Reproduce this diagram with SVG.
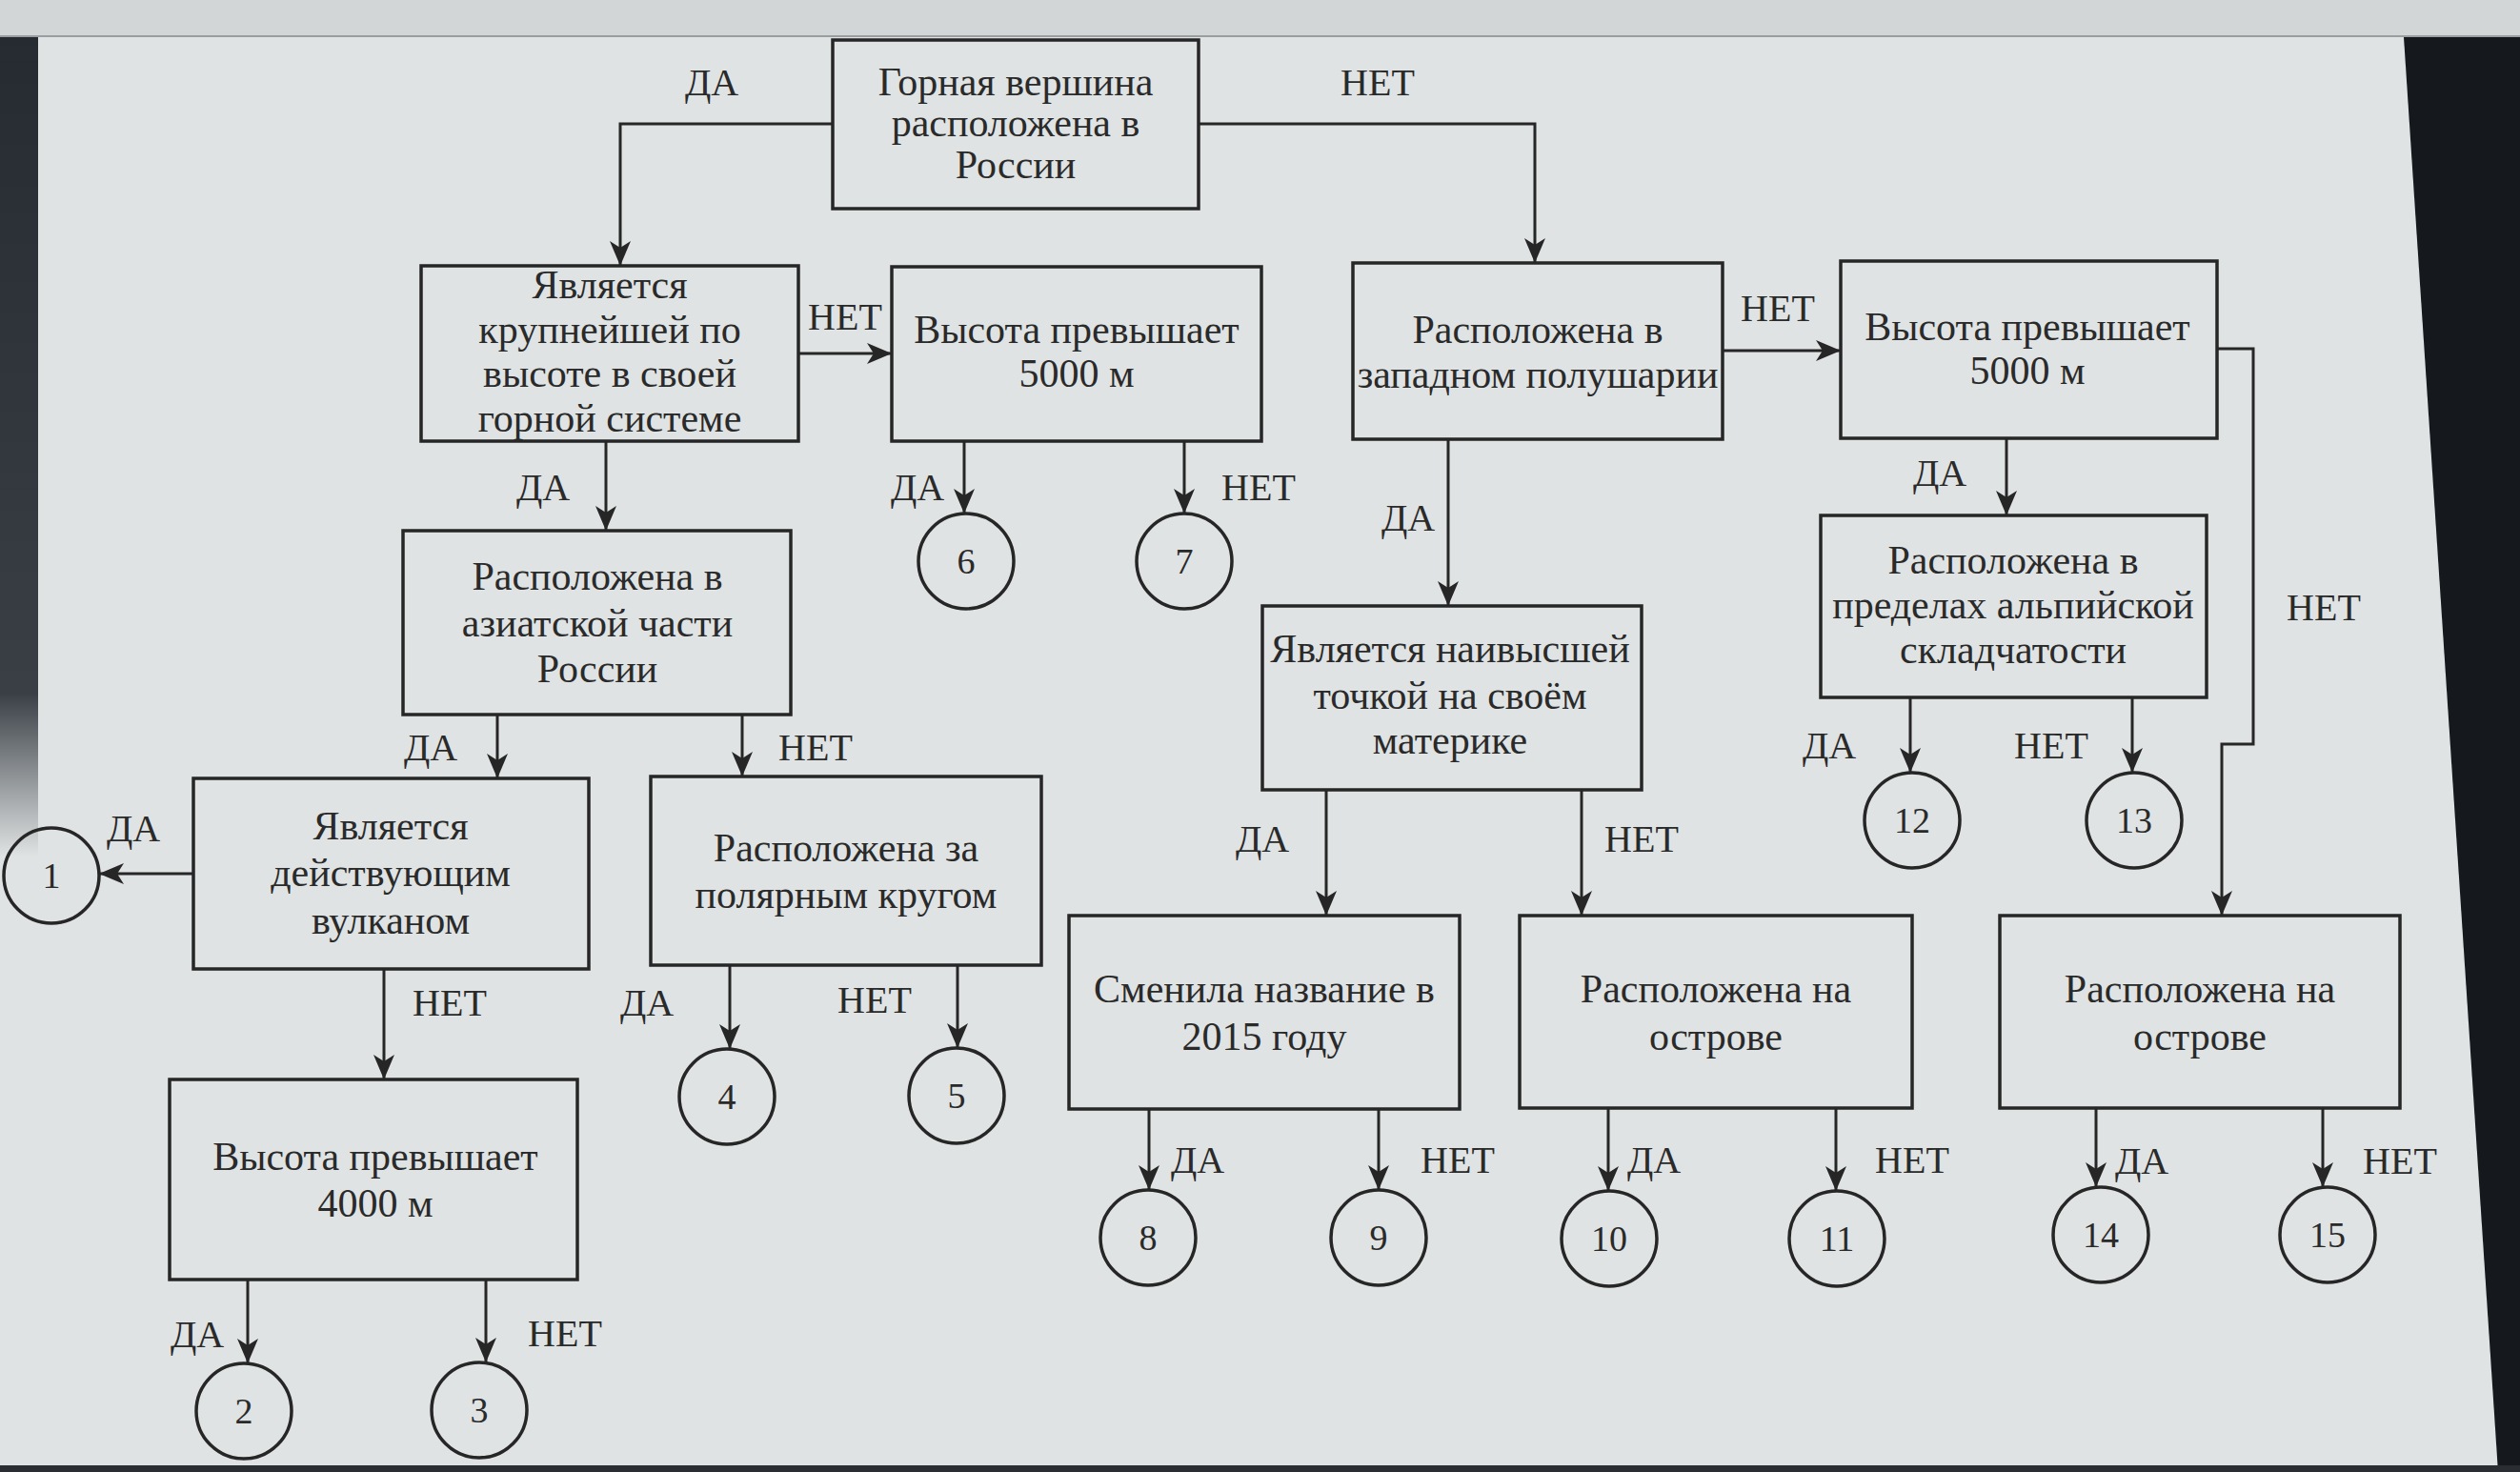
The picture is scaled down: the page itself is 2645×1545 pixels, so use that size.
<svg xmlns="http://www.w3.org/2000/svg" width="2645" height="1545" viewBox="0 0 2645 1545">
<defs>
<style>
.box{fill:none;stroke:#262626;stroke-width:3.5}
.circ{fill:none;stroke:#262626;stroke-width:3.5}
.ln{fill:none;stroke:#262626;stroke-width:3;marker-end:url(#ah)}
.t{font-family:"Liberation Serif","Times New Roman",serif;font-size:42px;fill:#2a2a2a;text-anchor:middle}
.lb{font-family:"Liberation Serif","Times New Roman",serif;font-size:40px;fill:#2a2a2a;text-anchor:middle}
.num{font-family:"Liberation Serif","Times New Roman",serif;font-size:38px;fill:#2a2a2a;text-anchor:middle}
</style>
<marker id="ah" markerWidth="26" markerHeight="22" refX="26" refY="11" orient="auto" markerUnits="userSpaceOnUse">
<path d="M0,0 L26,11 L0,22 L7,11 z" fill="#262626"/>
</marker>
<linearGradient id="lf" x1="0" y1="0" x2="0" y2="1">
<stop offset="0" stop-color="#262a31"/>
<stop offset="0.8" stop-color="#3a3f46"/>
<stop offset="1" stop-color="#dfe3e3"/>
</linearGradient>
</defs>
<rect x="0" y="0" width="2645" height="1545" fill="#dfe3e3"/>
<rect x="0" y="0" width="2645" height="38" fill="#d3d6d7"/>
<line x1="0" y1="38" x2="2645" y2="38" stroke="#9a9ea0" stroke-width="2"/>
<rect x="0" y="39" width="40" height="860" fill="url(#lf)"/>
<polygon points="2523,39 2645,39 2645,1545 2622,1545" fill="#15181c"/>
<rect x="0" y="1538" width="2645" height="7" fill="#2a2d31"/>

<g id="connectors">
<path class="ln" d="M874,130 H651 V279"/>
<path class="ln" d="M1258,130 H1611 V276"/>
<path class="ln" d="M838,371 H936"/>
<path class="ln" d="M1012,463 V539"/>
<path class="ln" d="M1243,463 V539"/>
<path class="ln" d="M1808,368 H1932"/>
<path class="ln" d="M2106,460 V541"/>
<path class="ln" d="M2327,366 H2365 V781 H2332 V961"/>
<path class="ln" d="M2005,732 V811"/>
<path class="ln" d="M2238,732 V811"/>
<path class="ln" d="M1520,461 V636"/>
<path class="ln" d="M1392,829 V961"/>
<path class="ln" d="M1660,829 V961"/>
<path class="ln" d="M1206,1164 V1249"/>
<path class="ln" d="M1447,1164 V1249"/>
<path class="ln" d="M1688,1163 V1250"/>
<path class="ln" d="M1927,1163 V1250"/>
<path class="ln" d="M2200,1163 V1246"/>
<path class="ln" d="M2438,1163 V1246"/>
<path class="ln" d="M636,463 V557"/>
<path class="ln" d="M522,750 V817"/>
<path class="ln" d="M779,750 V815"/>
<path class="ln" d="M203,917 H104"/>
<path class="ln" d="M403,1017 V1133"/>
<path class="ln" d="M260,1343 V1431"/>
<path class="ln" d="M510,1343 V1430"/>
<path class="ln" d="M766,1013 V1101"/>
<path class="ln" d="M1005,1013 V1100"/>
<g id="edge-labels">
<text class="lb" x="747" y="100">ДА</text>
<text class="lb" x="1446" y="100">НЕТ</text>
<text class="lb" x="887" y="346">НЕТ</text>
<text class="lb" x="963" y="525">ДА</text>
<text class="lb" x="1321" y="525">НЕТ</text>
<text class="lb" x="1866" y="337">НЕТ</text>
<text class="lb" x="2036" y="510">ДА</text>
<text class="lb" x="2439" y="651">НЕТ</text>
<text class="lb" x="1920" y="796">ДА</text>
<text class="lb" x="2153" y="796">НЕТ</text>
<text class="lb" x="1478" y="557">ДА</text>
<text class="lb" x="1325" y="894">ДА</text>
<text class="lb" x="1723" y="894">НЕТ</text>
<text class="lb" x="1257" y="1231">ДА</text>
<text class="lb" x="1530" y="1231">НЕТ</text>
<text class="lb" x="1736" y="1231">ДА</text>
<text class="lb" x="2007" y="1231">НЕТ</text>
<text class="lb" x="2248" y="1232">ДА</text>
<text class="lb" x="2519" y="1232">НЕТ</text>
<text class="lb" x="570" y="525">ДА</text>
<text class="lb" x="452" y="798">ДА</text>
<text class="lb" x="856" y="798">НЕТ</text>
<text class="lb" x="140" y="883">ДА</text>
<text class="lb" x="472" y="1066">НЕТ</text>
<text class="lb" x="207" y="1414">ДА</text>
<text class="lb" x="593" y="1413">НЕТ</text>
<text class="lb" x="679" y="1066">ДА</text>
<text class="lb" x="918" y="1063">НЕТ</text>
</g>
</g>

<g id="n0"><rect class="box" x="874" y="42" width="384" height="177"/>
<text class="t" x="1066" y="100">Горная вершина</text><text class="t" x="1066" y="143">расположена в</text><text class="t" x="1066" y="187">России</text></g>
<g id="n1"><rect class="box" x="442" y="279" width="396" height="184"/>
<text class="t" x="640" y="313">Является</text><text class="t" x="640" y="360">крупнейшей по</text><text class="t" x="640" y="406">высоте в своей</text><text class="t" x="640" y="453">горной системе</text></g>
<g id="n2"><rect class="box" x="936" y="280" width="388" height="183"/>
<text class="t" x="1130" y="360">Высота превышает</text><text class="t" x="1130" y="406">5000 м</text></g>
<g id="n3"><rect class="box" x="1420" y="276" width="388" height="185"/>
<text class="t" x="1614" y="360">Расположена в</text><text class="t" x="1614" y="407">западном полушарии</text></g>
<g id="n4"><rect class="box" x="1932" y="274" width="395" height="186"/>
<text class="t" x="2128" y="357">Высота превышает</text><text class="t" x="2128" y="403">5000 м</text></g>
<g id="n5"><rect class="box" x="423" y="557" width="407" height="193"/>
<text class="t" x="627" y="619">Расположена в</text><text class="t" x="627" y="668">азиатской части</text><text class="t" x="627" y="716">России</text></g>
<g id="n6"><rect class="box" x="1911" y="541" width="405" height="191"/>
<text class="t" x="2113" y="602">Расположена в</text><text class="t" x="2113" y="649">пределах альпийской</text><text class="t" x="2113" y="696">складчатости</text></g>
<g id="n7"><rect class="box" x="1325" y="636" width="398" height="193"/>
<text class="t" x="1522" y="695">Является наивысшей</text><text class="t" x="1522" y="744">точкой на своём</text><text class="t" x="1522" y="791">материке</text></g>
<g id="n8"><rect class="box" x="203" y="817" width="415" height="200"/>
<text class="t" x="410" y="881">Является</text><text class="t" x="410" y="930">действующим</text><text class="t" x="410" y="980">вулканом</text></g>
<g id="n9"><rect class="box" x="683" y="815" width="410" height="198"/>
<text class="t" x="888" y="904">Расположена за</text><text class="t" x="888" y="953">полярным кругом</text></g>
<g id="n10"><rect class="box" x="178" y="1133" width="428" height="210"/>
<text class="t" x="394" y="1228">Высота превышает</text><text class="t" x="394" y="1277">4000 м</text></g>
<g id="n11"><rect class="box" x="1122" y="961" width="410" height="203"/>
<text class="t" x="1327" y="1052">Сменила название в</text><text class="t" x="1327" y="1102">2015 году</text></g>
<g id="n12"><rect class="box" x="1595" y="961" width="412" height="202"/>
<text class="t" x="1801" y="1052">Расположена на</text><text class="t" x="1801" y="1102">острове</text></g>
<g id="n13"><rect class="box" x="2099" y="961" width="420" height="202"/>
<text class="t" x="2309" y="1052">Расположена на</text><text class="t" x="2309" y="1102">острове</text></g>

<g id="c1"><circle class="circ" cx="54" cy="919" r="50"/><text class="num" x="54" y="932">1</text></g>
<g id="c2"><circle class="circ" cx="256" cy="1481" r="50"/><text class="num" x="256" y="1494">2</text></g>
<g id="c3"><circle class="circ" cx="503" cy="1480" r="50"/><text class="num" x="503" y="1493">3</text></g>
<g id="c4"><circle class="circ" cx="763" cy="1151" r="50"/><text class="num" x="763" y="1164">4</text></g>
<g id="c5"><circle class="circ" cx="1004" cy="1150" r="50"/><text class="num" x="1004" y="1163">5</text></g>
<g id="c6"><circle class="circ" cx="1014" cy="589" r="50"/><text class="num" x="1014" y="602">6</text></g>
<g id="c7"><circle class="circ" cx="1243" cy="589" r="50"/><text class="num" x="1243" y="602">7</text></g>
<g id="c8"><circle class="circ" cx="1205" cy="1299" r="50"/><text class="num" x="1205" y="1312">8</text></g>
<g id="c9"><circle class="circ" cx="1447" cy="1299" r="50"/><text class="num" x="1447" y="1312">9</text></g>
<g id="c10"><circle class="circ" cx="1689" cy="1300" r="50"/><text class="num" x="1689" y="1313">10</text></g>
<g id="c11"><circle class="circ" cx="1928" cy="1300" r="50"/><text class="num" x="1928" y="1313">11</text></g>
<g id="c12"><circle class="circ" cx="2007" cy="861" r="50"/><text class="num" x="2007" y="874">12</text></g>
<g id="c13"><circle class="circ" cx="2240" cy="861" r="50"/><text class="num" x="2240" y="874">13</text></g>
<g id="c14"><circle class="circ" cx="2205" cy="1296" r="50"/><text class="num" x="2205" y="1309">14</text></g>
<g id="c15"><circle class="circ" cx="2443" cy="1296" r="50"/><text class="num" x="2443" y="1309">15</text></g>
</svg>
